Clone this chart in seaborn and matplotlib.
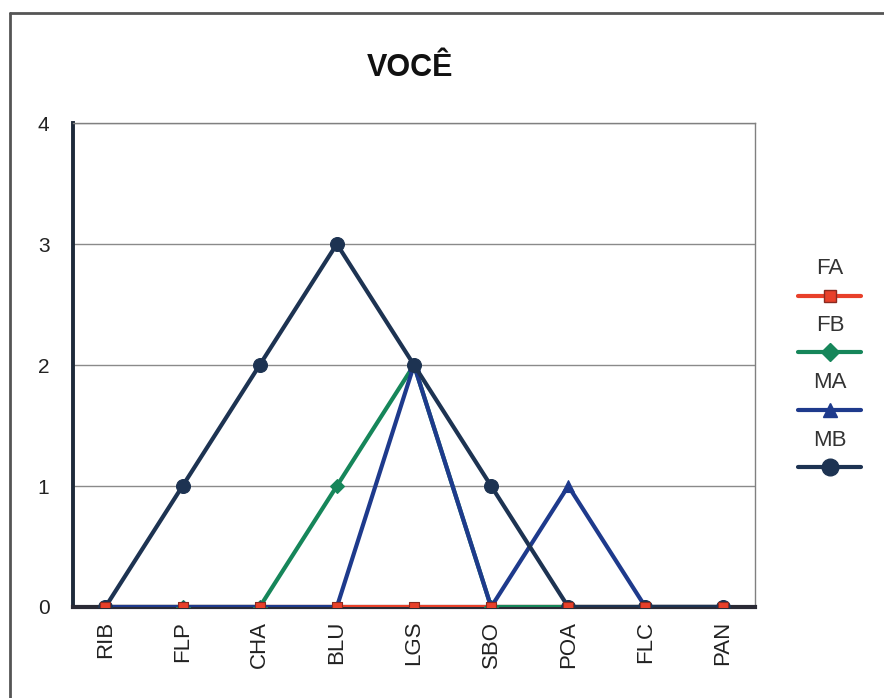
import numpy as np
import pandas as pd
import seaborn as sns
import matplotlib
matplotlib.use("Agg")
import matplotlib.pyplot as plt
from matplotlib.lines import Line2D

# Data
cidades = ["RIB", "FLP", "CHA", "BLU", "LGS", "SBO", "POA", "FLC", "PAN"]
fa = [0, 0, 0, 0, 0, 0, 0, 0, 0]
fb = [0, 0, 0, 1, 2, 0, 0, 0, 0]
ma = [0, 0, 0, 0, 2, 0, 1, 0, 0]
mb = [0, 1, 2, 3, 2, 1, 0, 0, 0]
series = ["FA", "FB", "MA", "MB"]
y_ticks = [0, 1, 2, 3, 4]

cores = {"FA": "#e8402a", "FB": "#16865a", "MA": "#1e3a8c", "MB": "#1d3352"}
bordas = {"FA": "#8a2a20", "FB": "#16865a", "MA": "#1e3a8c", "MB": "#1d3352"}
marcadores = {"FA": "s", "FB": "D", "MA": "^", "MB": "o"}
tamanhos = {"FA": 7, "FB": 7, "MA": 8, "MB": 10}

pos = np.arange(len(cidades))
df = pd.concat(
    [pd.DataFrame({"pos": pos, "valor": v, "serie": s})
     for s, v in zip(series, [fa, fb, ma, mb])],
    ignore_index=True,
)

sns.set_theme(style="white")
plt.rcParams["font.family"] = ["Liberation Sans", "DejaVu Sans"]

fig = plt.figure(figsize=(8.84, 6.98), dpi=100)
ax = fig.add_axes([73 / 884, 1 - 607 / 698, (755 - 73) / 884, (607 - 123) / 698])

for z, s in enumerate(series):
    sub = df[df["serie"] == s]
    sns.lineplot(data=sub, x="pos", y="valor", ax=ax, color=cores[s],
                 marker=None if s == "FA" else marcadores[s],
                 markersize=tamanhos[s],
                 markeredgecolor=bordas[s], markeredgewidth=0.8,
                 linewidth=3, zorder=3 + z, legend=False)

# FA square markers sit on top of the baseline
sub_fa = df[df["serie"] == "FA"]
sns.scatterplot(data=sub_fa, x="pos", y="valor", ax=ax, color=cores["FA"],
                marker="s", s=tamanhos["FA"] ** 2, edgecolor=bordas["FA"],
                linewidth=0.8, zorder=8, legend=False)

ax.set_xlim(-0.42, 8.42)
ax.set_ylim(0, 4)
ax.set_yticks(y_ticks)
ax.set_yticklabels([str(t) for t in y_ticks], fontsize=15, color="#222222")
ax.set_xticks(pos)
ax.set_xticklabels(cidades, rotation=90, fontsize=16, color="#222222")
ax.set_xlabel("")
ax.set_ylabel("")
ax.tick_params(axis="y", length=0, pad=17)
ax.tick_params(axis="x", length=0, pad=10)
ax.grid(axis="y", color="#8a8a8a", linewidth=1)
ax.set_axisbelow(True)

for lado in ["top", "right"]:
    ax.spines[lado].set_color("#808080")
    ax.spines[lado].set_linewidth(1)
ax.spines["left"].set_color("#1e2a3a")
ax.spines["left"].set_linewidth(2.8)
ax.spines["bottom"].set_color("#2a2a35")
ax.spines["bottom"].set_linewidth(3)

fig.text(410 / 884, 1 - 68 / 698, "VOCÊ", ha="center", va="center",
         fontsize=22, fontweight="bold", color="#111111")

# Legend: label above each line sample
legenda_y = [(268, 296), (325, 352), (383, 410), (441, 467)]
for s, (ty, ly) in zip(series, legenda_y):
    fig.text(830 / 884, 1 - ty / 698, s, ha="center", va="center",
             fontsize=16, color="#333333")
    fig.add_artist(Line2D([798 / 884, 861 / 884], [1 - ly / 698, 1 - ly / 698],
                          color=cores[s], linewidth=3))
    fig.add_artist(Line2D([829.5 / 884], [1 - ly / 698], color=cores[s],
                          marker=marcadores[s], markersize=tamanhos[s] + 2,
                          markeredgecolor=bordas[s], linestyle="none"))

# Outer frame (left and top edges)
fig.add_artist(Line2D([10 / 884, 10 / 884], [0, 1 - 13 / 698], color="#555555", linewidth=2))
fig.add_artist(Line2D([10 / 884, 1], [1 - 13 / 698, 1 - 13 / 698], color="#555555", linewidth=2))

fig.savefig("out.png", dpi=100, facecolor="white")
